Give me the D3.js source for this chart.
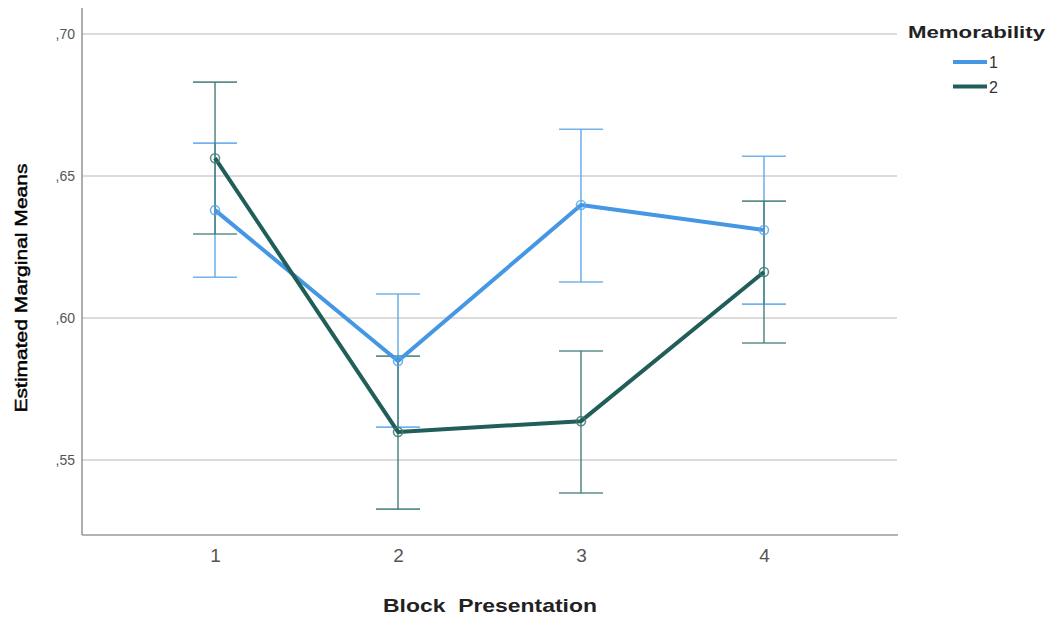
<!DOCTYPE html>
<html>
<head>
<meta charset="utf-8">
<script src="https://cdn.jsdelivr.net/npm/d3@7"></script>
<style>
  html, body { margin: 0; padding: 0; background: #fff; }
  svg { display: block; font-family: "Liberation Sans", Arial, sans-serif; }
</style>
</head>
<body>
<svg id="chart" width="1050" height="618"></svg>
<script>
// ---- data ----
const categories = ["1", "2", "3", "4"];
const seriesNames = ["1", "2"];
const seriesColors = ["#4597e4", "#225e59"];
const errColors = ["#5aa6ea", "#3f7a76"];
const mean1 = [0.6380, 0.5849, 0.6398, 0.6310];
const upper1 = [0.6616, 0.6085, 0.6665, 0.6570];
const lower1 = [0.6144, 0.5616, 0.6127, 0.6049];
const mean2 = [0.6563, 0.5599, 0.5637, 0.6162];
const upper2 = [0.6831, 0.5866, 0.5884, 0.6412];
const lower2 = [0.6296, 0.5327, 0.5384, 0.5912];
const yTicks = [0.55, 0.60, 0.65, 0.70];
const yTickLabels = [",55", ",60", ",65", ",70"];

(function () {
const series = [
  { name: seriesNames[0], color: seriesColors[0], err: errColors[0], mean: mean1, upper: upper1, lower: lower1 },
  { name: seriesNames[1], color: seriesColors[1], err: errColors[1], mean: mean2, upper: upper2, lower: lower2 }
];

const svg = d3.select("#chart");
const mLeft = 82, mRight = 897, mTop = 8, mBottom = 535;

const x = d3.scalePoint().domain(categories).range([mLeft, mRight]).padding(0.727);
const y = d3.scaleLinear().domain([0.5236, 0.7092]).range([mBottom, mTop]);

// gridlines
svg.append("g").selectAll("line").data(yTicks).join("line")
  .attr("x1", mLeft).attr("x2", mRight)
  .attr("y1", d => y(d)).attr("y2", d => y(d))
  .attr("stroke", "#cfcfcf").attr("stroke-width", 1.5);

// y axis
const yAxis = d3.axisLeft(y).tickValues(yTicks)
  .tickFormat((d, i) => yTickLabels[i]).tickSize(0).tickPadding(7);
const gy = svg.append("g").attr("transform", `translate(${mLeft},0)`).call(yAxis);
gy.select(".domain").remove();
gy.selectAll("text").attr("fill", "#555").style("font-size", "14px")
  .style("font-family", "Liberation Sans, Arial, sans-serif");

// x axis
const xAxis = d3.axisBottom(x).tickSize(0).tickPadding(14);
const gx = svg.append("g").attr("transform", `translate(0,${mBottom})`).call(xAxis);
gx.select(".domain").remove();
gx.selectAll("text").attr("fill", "#555").style("font-size", "19px")
  .style("font-family", "Liberation Sans, Arial, sans-serif");

// axis lines
svg.append("line").attr("x1", mLeft).attr("x2", mLeft).attr("y1", mTop).attr("y2", mBottom)
  .attr("stroke", "#9a9a9a").attr("stroke-width", 1.6);
svg.append("line").attr("x1", mLeft).attr("x2", mRight + 1).attr("y1", mBottom).attr("y2", mBottom)
  .attr("stroke", "#9a9a9a").attr("stroke-width", 1.6);

// error bars
const capW = 22;
series.forEach(s => {
  const g = svg.append("g").attr("stroke", s.err).attr("stroke-width", 1.6).attr("stroke-opacity", 0.85);
  categories.forEach((c, i) => {
    const cx = x(c);
    g.append("line").attr("x1", cx).attr("x2", cx).attr("y1", y(s.upper[i])).attr("y2", y(s.lower[i]));
    g.append("line").attr("x1", cx - capW).attr("x2", cx + capW).attr("y1", y(s.upper[i])).attr("y2", y(s.upper[i]));
    g.append("line").attr("x1", cx - capW).attr("x2", cx + capW).attr("y1", y(s.lower[i])).attr("y2", y(s.lower[i]));
  });
});

// lines and markers
const lineGen = d3.line().x((d, i) => x(categories[i])).y(d => y(d));
series.forEach(s => {
  svg.append("path").datum(s.mean).attr("d", lineGen)
    .attr("fill", "none").attr("stroke", s.color).attr("stroke-width", 4)
    .attr("stroke-linejoin", "round");
  svg.append("g").selectAll("circle").data(s.mean).join("circle")
    .attr("cx", (d, i) => x(categories[i])).attr("cy", d => y(d)).attr("r", 4.5)
    .attr("fill", "none").attr("stroke", s.err).attr("stroke-width", 1.6).attr("stroke-opacity", 0.85);
});

// axis titles
svg.append("text").attr("x", 490).attr("y", 612).attr("text-anchor", "middle")
  .attr("font-weight", "bold").attr("font-size", "19px").attr("fill", "#222")
  .style("white-space", "pre")
  .attr("textLength", 214).attr("lengthAdjust", "spacingAndGlyphs")
  .text("Block  Presentation");

svg.append("text").attr("transform", "translate(27,288) rotate(-90)")
  .attr("text-anchor", "middle").attr("font-size", "17px").attr("fill", "#000")
  .attr("stroke", "#000").attr("stroke-width", 0.45)
  .attr("textLength", 249).attr("lengthAdjust", "spacingAndGlyphs")
  .text("Estimated Marginal Means");

// legend
svg.append("text").attr("x", 908).attr("y", 38).attr("font-weight", "bold")
  .attr("font-size", "17px").attr("fill", "#222")
  .attr("textLength", 137).attr("lengthAdjust", "spacingAndGlyphs")
  .text("Memorability");
series.forEach((s, i) => {
  const ly = 62 + i * 24.5;
  svg.append("line").attr("x1", 953).attr("x2", 987).attr("y1", ly).attr("y2", ly)
    .attr("stroke", s.color).attr("stroke-width", 4);
  svg.append("text").attr("x", 989).attr("y", ly + 6).attr("font-size", "16px")
    .attr("fill", "#333").text(s.name);
});
})();
</script>
</body>
</html>
